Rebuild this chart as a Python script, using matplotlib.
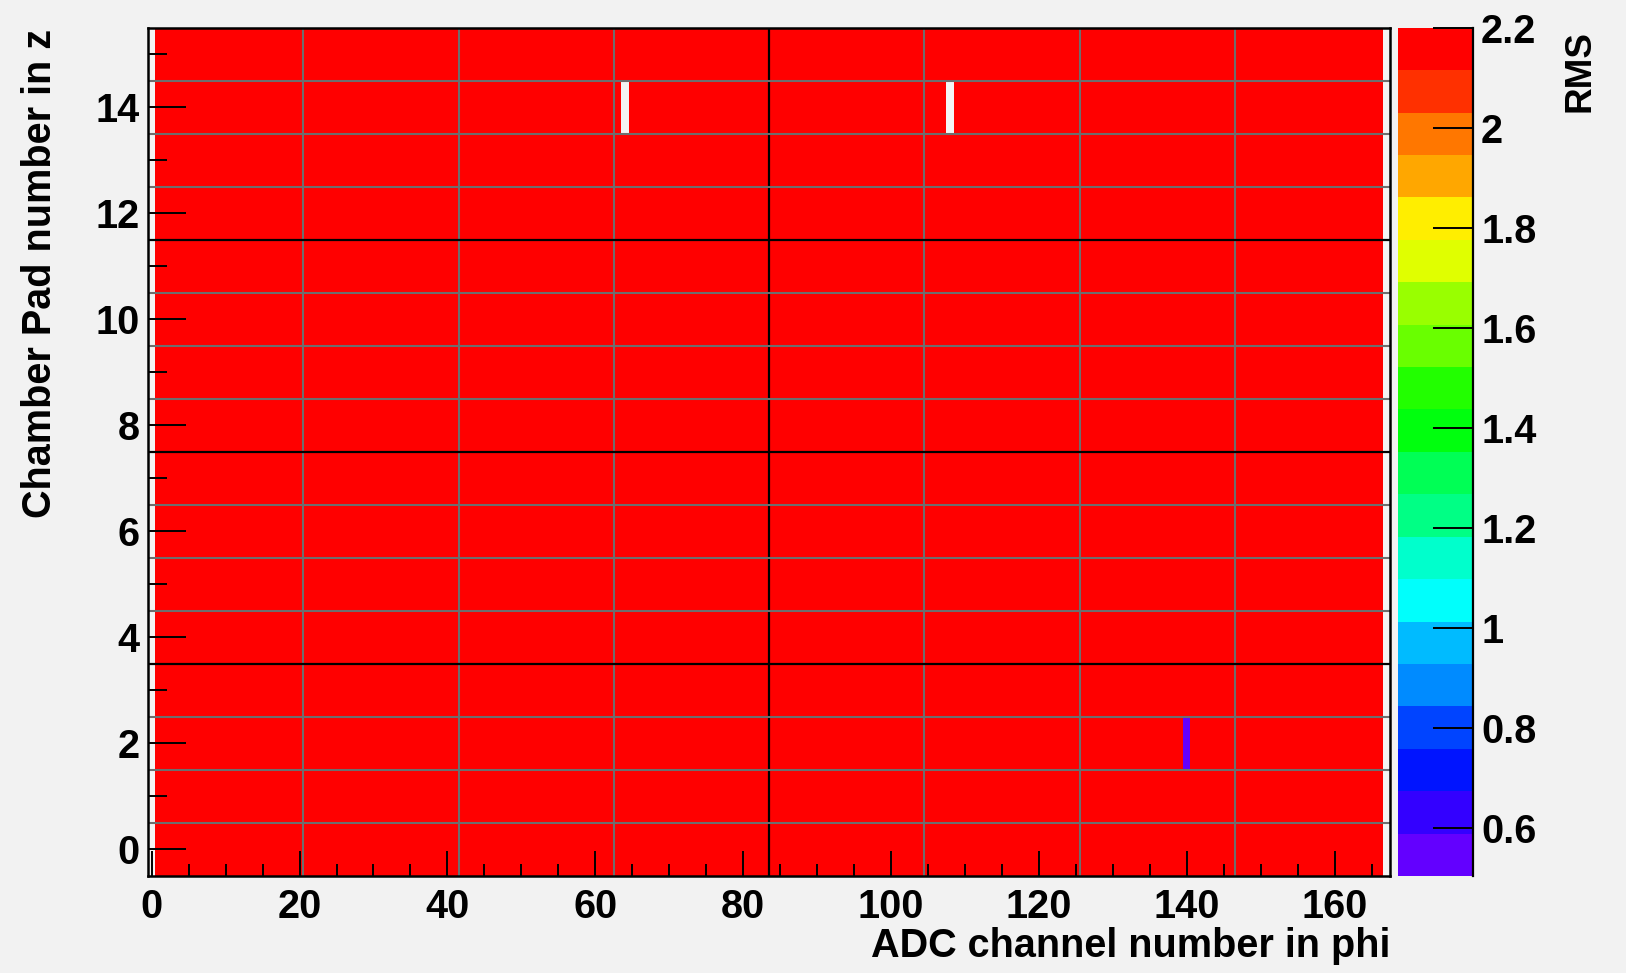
import colorsys
import numpy as np
import matplotlib
matplotlib.use("Agg")
import matplotlib.pyplot as plt
from matplotlib.colors import ListedColormap, BoundaryNorm
from matplotlib.ticker import MultipleLocator, FixedLocator, FuncFormatter

# ---------------- data ----------------
n_pads = 16                      # chamber pads in z: 0..15
n_channels = 168                 # ADC channels in phi: 0..167
channels_per_chip = 21
pads_per_group = 4

rms_typical = 2.2                # every filled cell sits in the top (red) band
empty_channels = [0, 167]        # columns with no entries in any pad
empty_cells_pad = [14, 14]       # single empty cells (pad, channel)
empty_cells_channel = [64, 108]
low_cells_pad = [2]              # single low-RMS cell
low_cells_channel = [140]
low_cells_rms = [0.505]

z_min, z_max = 0.505, 2.2        # colour-scale range
n_contours = 20
cbar_ticks = [0.6, 0.8, 1.0, 1.2, 1.4, 1.6, 1.8, 2.0, 2.2]

# ---------------- build the histogram ----------------
rms = np.full((n_pads, n_channels), rms_typical, dtype=float)
rms[:, empty_channels] = np.nan
for p, c in zip(empty_cells_pad, empty_cells_channel):
    rms[p, c] = np.nan
for p, c, v in zip(low_cells_pad, low_cells_channel, low_cells_rms):
    rms[p, c] = v

x_edges = np.arange(n_channels + 1) - 0.5
y_edges = np.arange(n_pads + 1) - 0.5

# ROOT "pretty" violet->red palette (50 colours), sampled for 20 contours
pretty = []
for i in range(50):
    hue = 280.0 - (i + 1) * (280.0 / 50)
    pretty.append(colorsys.hls_to_rgb(hue / 360.0, 0.5, 1.0))
band_colors = [pretty[int((k + 0.99) * 50 / n_contours)] for k in range(n_contours)]
cmap = ListedColormap(band_colors).with_extremes(bad=(0, 0, 0, 0))
levels = np.linspace(z_min, z_max, n_contours + 1)
norm = BoundaryNorm(levels, ncolors=n_contours, clip=True)

# ---------------- figure ----------------
plt.rcParams['font.family'] = ['Liberation Sans', 'DejaVu Sans']
plt.rcParams['font.weight'] = 'bold'

bg = '#F2F2F2'
W, H = 1626, 973
fig = plt.figure(figsize=(W / 100, H / 100), dpi=100, facecolor=bg)
ax_l, ax_r, ax_t, ax_b = 148, 1390, 27.7, 876
ax = fig.add_axes([ax_l / W, (H - ax_b) / H, (ax_r - ax_l) / W, (ax_b - ax_t) / H])
cax = fig.add_axes([1398 / W, (H - ax_b) / H, (1473 - 1398) / W, (ax_b - ax_t) / H])
ax.set_facecolor('#F4F4F4')

ax.pcolormesh(x_edges, y_edges, rms, cmap=cmap, norm=norm, shading='flat')
ax.set_xlim(x_edges[0], x_edges[-1])
ax.set_ylim(y_edges[0], y_edges[-1])

# chip / pad boundary lines
chip_edges = np.arange(channels_per_chip, n_channels, channels_per_chip) - 0.5
pad_edges = np.arange(1, n_pads) - 0.5
half = n_channels // 2 - 0.5
for xe in chip_edges:
    ax.axvline(xe, color='black' if xe == half else '#6E6E6E',
               lw=1.6 if xe == half else 1.5, zorder=3)
for ye in pad_edges:
    major = (ye + 0.5) % pads_per_group == 0
    ax.axhline(ye, color='black' if major else '#6E6E6E',
               lw=1.6 if major else 1.5, zorder=3)

for s in ax.spines.values():
    s.set_linewidth(1.8)
    s.set_zorder(5)

fs = 28.5
ax.xaxis.set_major_locator(MultipleLocator(20))
ax.xaxis.set_minor_locator(MultipleLocator(5))
ax.yaxis.set_major_locator(MultipleLocator(2))
ax.yaxis.set_minor_locator(MultipleLocator(1))
ax.tick_params(axis='x', which='major', direction='in', length=18, width=1.4,
               pad=8.6, labelsize=fs, top=False)
ax.tick_params(axis='x', which='minor', direction='in', length=9, width=1.4, top=False)
ax.tick_params(axis='y', which='major', direction='in', length=27, width=1.4,
               pad=5.8, labelsize=fs, right=False)
ax.tick_params(axis='y', which='minor', direction='in', length=13.4, width=1.4, right=False)
for t in ax.get_xticklabels() + ax.get_yticklabels():
    t.set_fontweight('bold')

ax.set_xlabel('ADC channel number in phi', fontsize=fs, fontweight='bold')
ax.xaxis.set_label_coords(1.0, (ax_b - 957) / (ax_b - ax_t))
ax.xaxis.label.set_ha('right')
ax.xaxis.label.set_va('baseline')

ax.set_ylabel('Chamber Pad number in z', fontsize=fs, fontweight='bold')
ax.yaxis.set_label_coords((40.5 - ax_l) / (ax_r - ax_l), 1.0 - (29 - ax_t) / (ax_b - ax_t))
ax.yaxis.label.set_ha('right')
ax.yaxis.label.set_va('center')

# ---------------- colour bar ----------------
mids = 0.5 * (levels[:-1] + levels[1:])
cax.pcolormesh([0, 1], levels, mids.reshape(-1, 1), cmap=cmap, norm=norm)
cax.set_xlim(0, 1)
cax.set_ylim(z_min, z_max)
cax.set_xticks([])
for side in ['left', 'top', 'bottom']:
    cax.spines[side].set_visible(False)
cax.spines['right'].set_linewidth(1.6)
cax.yaxis.tick_right()
cax.yaxis.set_major_locator(FixedLocator(cbar_ticks))
cax.yaxis.set_major_formatter(FuncFormatter(lambda v, p: f'{v:g}'))
cax.tick_params(axis='y', direction='in', length=29, width=1.4, pad=5.8,
                labelsize=fs, left=False, right=True)
for t in cax.get_yticklabels():
    t.set_fontweight('bold')
cax.set_ylabel('RMS', fontsize=26.6, fontweight='bold')
cax.yaxis.set_label_coords((1579.5 - 1398) / 75, 1.0 - (30 - ax_t) / (ax_b - ax_t))
cax.yaxis.label.set_rotation(90)
cax.yaxis.label.set_ha('right')
cax.yaxis.label.set_va('center')

fig.savefig('out.png', dpi=100, facecolor=bg)
